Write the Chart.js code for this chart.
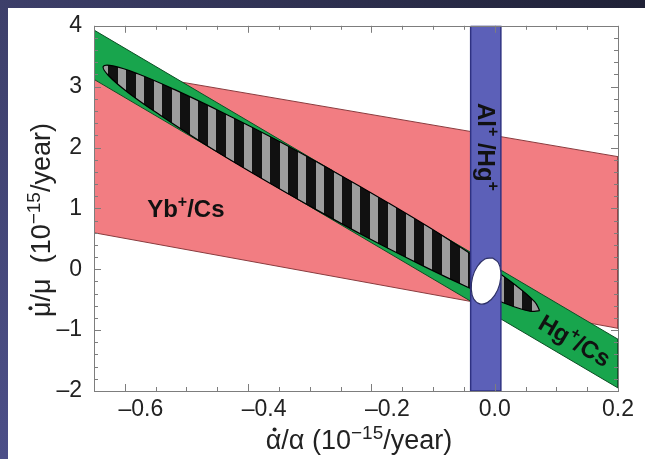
<!DOCTYPE html>
<html>
<head>
<meta charset="utf-8">
<script src="https://cdn.jsdelivr.net/npm/chart.js@4.4.0/dist/chart.umd.min.js"></script>
<style>
  html, body { margin: 0; padding: 0; background: #fff; }
  #wrap { width: 645px; height: 459px; }
</style>
</head>
<body>
<div id="wrap"><canvas id="chart" width="645" height="459"></canvas></div>
<script>
// axis ranges and tick labels
const xRange = [-0.65, 0.2];
const yRange = [-2, 4];
const xTicks = [-0.6, -0.4, -0.2, 0.0, 0.2];
const yTicks = [-2, -1, 0, 1, 2, 3, 4];
const xMinorStep = 0.05;
const yMinorStep = 0.2;

// Yb+/Cs band (corners, closed)
const ybCsX = [-0.65, 0.2, 0.2, -0.65, -0.65];
const ybCsY = [3.32, 1.85, -0.97, 0.6, 3.32];

// Hg+/Cs band
const hgCsX = [-0.65, 0.2, 0.2, -0.65, -0.65];
const hgCsY = [3.93, -1.15, -1.95, 3.12, 3.93];

// Al+/Hg+ band
const alHgX = [-0.039, 0.010, 0.010, -0.039, -0.039];
const alHgY = [4, 4, -2, -2, 4];

// combined Hg+/Cs + Yb+/Cs ellipse outline
const combX = [0.073, 0.057, 0.017, -0.042, -0.118, -0.206, -0.298, -0.389, -0.473, -0.543, -0.596, -0.627,
               -0.635, -0.619, -0.579, -0.520, -0.444, -0.356, -0.264, -0.173, -0.089, -0.019, 0.034, 0.065, 0.073];
const combY = [-0.681, -0.689, -0.562, -0.303, 0.064, 0.517, 1.028, 1.557, 2.071, 2.534, 2.914, 3.188,
               3.333, 3.341, 3.212, 2.955, 2.588, 2.135, 1.624, 1.094, 0.581, 0.118, -0.264, -0.536, -0.681];

// all three combined (white ellipse)
const allX = [-0.004, 0.006, 0.010, 0.008, 0.000, -0.012, -0.024, -0.034, -0.038, -0.036, -0.028, -0.016, -0.004];
const allY = [0.188, 0.108, -0.052, -0.249, -0.430, -0.548, -0.569, -0.489, -0.329, -0.132, 0.049, 0.167, 0.188];

// text labels placed in data coordinates
const bandLabels = [
  { parts: [{t: 'Yb'}, {t: '+', sup: true}, {t: '/Cs'}], x: -0.501, y: 1.0, rot: 0 },
  { parts: [{t: 'Hg'}, {t: '+', sup: true}, {t: '/Cs'}], x: 0.130, y: -1.17, rot: 'hg' },
  { parts: [{t: 'Al'}, {t: '+', sup: true}, {t: ' /Hg'}, {t: '+', sup: true}], x: -0.013, y: 2.01, rot: Math.PI / 2 }
];

const FONT = '"Liberation Sans", Arial, Helvetica, sans-serif';

function pts(xs, ys) {
  return xs.map((x, i) => ({ x: x, y: ys[i] }));
}

function stripes() {
  const c = document.createElement('canvas');
  c.width = 18; c.height = 18;
  const g = c.getContext('2d');
  g.fillStyle = '#111';
  g.fillRect(0, 0, 18, 18);
  g.fillStyle = '#9d9d9d';
  g.fillRect(10, 0, 8, 18);
  return g.createPattern(c, 'repeat');
}

function shape(label, xs, ys, fillColor, lineColor, lineWidth, order, tension) {
  return {
    label: label,
    data: pts(xs, ys),
    showLine: true,
    fill: 'shape',
    backgroundColor: fillColor,
    borderColor: lineColor,
    borderWidth: lineWidth,
    pointRadius: 0,
    tension: tension || 0,
    order: order
  };
}

// text with superscripts and dot accents
function drawRich(ctx, parts, x, y, rot, size, weight, supScale) {
  supScale = supScale || 0.68;
  ctx.save();
  ctx.translate(x, y);
  ctx.rotate(rot);
  let w = 0;
  parts.forEach(p => {
    ctx.font = weight + ' ' + (p.sup ? Math.round(size * supScale) : size) + 'px ' + FONT;
    p.w = ctx.measureText(p.t).width;
    w += p.w;
  });
  let cx = -w / 2;
  const base = size * 0.35;
  ctx.textAlign = 'left';
  ctx.textBaseline = 'alphabetic';
  parts.forEach(p => {
    ctx.font = weight + ' ' + (p.sup ? Math.round(size * supScale) : size) + 'px ' + FONT;
    ctx.fillText(p.t, cx, base - (p.sup ? size * 0.4 : 0));
    if (p.dot) {
      ctx.beginPath();
      ctx.arc(cx + p.w / 2 + 1, base - size * 0.74, size * 0.075, 0, Math.PI * 2);
      ctx.fill();
    }
    cx += p.w;
  });
  ctx.restore();
}

function fmt(v, dec) {
  const s = Math.abs(v).toFixed(dec);
  return v < -1e-9 ? '     \u2013' + s : s;
}

const decor = {
  id: 'decor',
  beforeDraw(chart) {
    const ctx = chart.ctx;
    ctx.save();
    ctx.fillStyle = '#fff';
    ctx.fillRect(0, 0, chart.width, chart.height);
    let g = ctx.createLinearGradient(0, 0, chart.width, 0);
    g.addColorStop(0, '#3d3f6a');
    g.addColorStop(1, '#1f2136');
    ctx.fillStyle = g;
    ctx.fillRect(0, 0, chart.width, 8);
    g = ctx.createLinearGradient(0, 0, 0, chart.height);
    g.addColorStop(0, '#3d3f6a');
    g.addColorStop(1, '#4c4f88');
    ctx.fillStyle = g;
    ctx.fillRect(0, 8, 8, chart.height - 8);
    ctx.restore();
  },
  afterDatasetsDraw(chart) {
    const ctx = chart.ctx;
    const xs = chart.scales.x, ys = chart.scales.y;
    const hgAngle = Math.atan2(ys.getPixelForValue(hgCsY[1]) - ys.getPixelForValue(hgCsY[0]),
                               xs.getPixelForValue(hgCsX[1]) - xs.getPixelForValue(hgCsX[0]));
    ctx.save();
    ctx.fillStyle = '#111';
    bandLabels.forEach(l => {
      const rot = l.rot === 'hg' ? hgAngle : l.rot;
      drawRich(ctx, l.parts, xs.getPixelForValue(l.x), ys.getPixelForValue(l.y), rot, 24, 'bold');
    });
    ctx.restore();
  },
  afterDraw(chart) {
    const ctx = chart.ctx;
    const a = chart.chartArea;
    const xs = chart.scales.x, ys = chart.scales.y;
    ctx.save();
    ctx.strokeStyle = '#7d7d7d';
    ctx.lineWidth = 1;
    ctx.strokeRect(Math.round(a.left) + 0.5, Math.round(a.top) + 0.5,
                   Math.round(a.right - a.left), Math.round(a.bottom - a.top));
    ctx.beginPath();
    // x ticks, inward on bottom and top
    for (let v = xRange[0]; v <= xRange[1] + 1e-9; v += xMinorStep) {
      const major = xTicks.some(t => Math.abs(t - v) < 1e-6);
      const len = major ? 7 : 4;
      const px = Math.round(xs.getPixelForValue(v)) + 0.5;
      ctx.moveTo(px, a.bottom); ctx.lineTo(px, a.bottom - len);
      ctx.moveTo(px, a.top); ctx.lineTo(px, a.top + len);
    }
    // y ticks, inward on left and right
    for (let v = yRange[0]; v <= yRange[1] + 1e-9; v += yMinorStep) {
      const major = yTicks.some(t => Math.abs(t - v) < 1e-6);
      const len = major ? 7 : 4;
      const py = Math.round(ys.getPixelForValue(v)) + 0.5;
      ctx.moveTo(a.left, py); ctx.lineTo(a.left + len, py);
      ctx.moveTo(a.right, py); ctx.lineTo(a.right - len, py);
    }
    ctx.stroke();
    // axis titles
    ctx.fillStyle = '#222';
    drawRich(ctx, [{t: '\u03b1', dot: true}, {t: '/\u03b1 (10'}, {t: '\u221215', sup: true}, {t: '/year)'}],
             359, 440, 0, 27, 'normal', 0.72);
    drawRich(ctx, [{t: '\u03bc', dot: true}, {t: '/\u03bc  (10'}, {t: '\u221215', sup: true}, {t: '/year)'}],
             41, 220, -Math.PI / 2, 27, 'normal', 0.72);
    ctx.restore();
  }
};

const ctx = document.getElementById('chart').getContext('2d');

new Chart(ctx, {
  type: 'scatter',
  data: {
    datasets: [
      shape('Yb+/Cs', ybCsX, ybCsY, '#f27d82', '#8a3b3e', 1, 5),
      shape('Hg+/Cs', hgCsX, hgCsY, '#18a54d', '#0d4f25', 1, 4),
      shape('combined', combX, combY, stripes(), '#000', 1.2, 3, 0.4),
      shape('Al+/Hg+', alHgX, alHgY, '#5c60b8', '#2f3282', 1.5, 2),
      shape('all', allX, allY, '#ffffff', '#2c2f66', 1.2, 1, 0.4)
    ]
  },
  options: {
    responsive: false,
    animation: false,
    layout: { padding: { top: 23, right: 27, left: 0, bottom: 0 } },
    plugins: { legend: { display: false }, tooltip: { enabled: false } },
    scales: {
      x: {
        type: 'linear',
        min: xRange[0],
        max: xRange[1],
        afterBuildTicks: ax => { ax.ticks = xTicks.map(v => ({ value: v })); },
        afterFit: ax => { ax.height = 68; },
        grid: { display: false, drawTicks: false },
        border: { display: false },
        ticks: {
          callback: v => fmt(v, 1),
          font: { family: FONT, size: 23 },
          color: '#222',
          padding: 5,
          maxRotation: 0,
          autoSkip: false
        }
      },
      y: {
        type: 'linear',
        min: yRange[0],
        max: yRange[1],
        afterBuildTicks: ax => { ax.ticks = yTicks.map(v => ({ value: v })); },
        afterFit: ax => { ax.width = 94; },
        grid: { display: false, drawTicks: false },
        border: { display: false },
        ticks: {
          callback: v => (v < 0 ? '\u2013' + Math.abs(v) : String(v)),
          font: { family: FONT, size: 23 },
          color: '#222',
          padding: 12,
          autoSkip: false
        }
      }
    }
  },
  plugins: [decor]
});
</script>
</body>
</html>
